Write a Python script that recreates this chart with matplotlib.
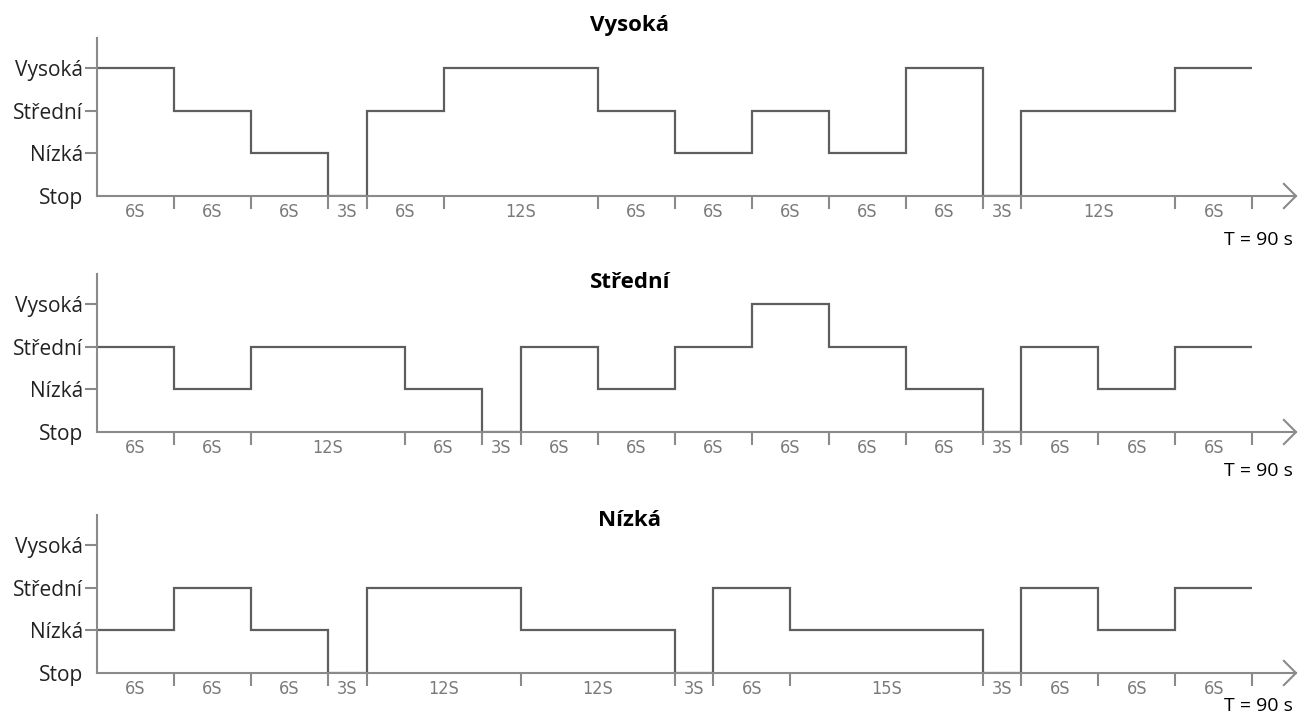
import numpy as np
import matplotlib.pyplot as plt

level_names = ["Stop", "Nízká", "Střední", "Vysoká"]

# panel titles
titles = ["Vysoká", "Střední", "Nízká"]

# segment durations (s) and levels (0=Stop, 1=Nízká, 2=Střední, 3=Vysoká)
vysoka_dur = [6, 6, 6, 3, 6, 12, 6, 6, 6, 6, 6, 3, 12, 6]
vysoka_lvl = [3, 2, 1, 0, 2, 3, 2, 1, 2, 1, 3, 0, 2, 3]

stredni_dur = [6, 6, 12, 6, 3, 6, 6, 6, 6, 6, 6, 3, 6, 6, 6]
stredni_lvl = [2, 1, 2, 1, 0, 2, 1, 2, 3, 2, 1, 0, 2, 1, 2]

nizka_dur = [6, 6, 6, 3, 12, 12, 3, 6, 15, 3, 6, 6, 6]
nizka_lvl = [1, 2, 1, 0, 2, 1, 0, 2, 1, 0, 2, 1, 2]

total_label = "T = 90 s"

panels = [
    (vysoka_dur, vysoka_lvl),
    (stredni_dur, stredni_lvl),
    (nizka_dur, nizka_lvl),
]

W, H = 1298, 728
fig = plt.figure(figsize=(W / 100, H / 100), dpi=100)

axis_color = "#8a8a8a"
line_color = "#5e5e5e"
text_font = ["Open Sans", "DejaVu Sans"]

# pixel layout: (stop baseline y, title y, T label y)
layout = [(196, 26, 240), (432, 283, 471), (673, 521, 706)]
left_px, right_px = 97, 1296
height_px = 158
xmax = 93.4

for (dur, lvl), title, (base_y, title_y, t_y) in zip(panels, titles, layout):
    ax = fig.add_axes([left_px / W, 1 - base_y / H, (right_px - left_px) / W, height_px / H])
    edges = np.concatenate([[0], np.cumsum(dur)])
    ax.stairs(lvl, edges, baseline=None, color=line_color, lw=1.6, zorder=1)

    ax.set_xlim(0, xmax)
    ax.set_ylim(0, 3.7)
    for s in ["top", "right"]:
        ax.spines[s].set_visible(False)
    for s in ["left", "bottom"]:
        ax.spines[s].set_color(axis_color)
        ax.spines[s].set_linewidth(1.5)
        ax.spines[s].set_zorder(2)

    # arrow head on time axis
    ax.plot([xmax - 1.0, xmax, xmax - 1.0], [0.3, 0, -0.3], color=axis_color,
            lw=1.5, clip_on=False, solid_capstyle="butt")

    ax.set_yticks(range(4))
    ax.set_yticklabels(level_names, fontsize=15, family=text_font, color="#222222")
    ax.tick_params(axis="y", length=9, width=1.5, color=axis_color, pad=1)
    ax.yaxis.get_major_ticks()[0].tick1line.set_visible(False)

    ax.set_xticks(edges[1:])
    ax.set_xticklabels([])
    ax.tick_params(axis="x", length=9, width=1.5, color=axis_color, direction="out")

    mids = (edges[:-1] + edges[1:]) / 2
    for m, d in zip(mids, dur):
        ax.text(m, -0.38, f"{d}S", ha="center", va="center", fontsize=13,
                color="#7a7a7a", family=["Liberation Sans Narrow", "DejaVu Sans"],
                fontstretch="condensed", clip_on=False)

    fig.text(630 / W, 1 - title_y / H, title, ha="center", va="center",
             fontsize=16, fontweight="bold", family=text_font)
    fig.text(1293 / W, 1 - t_y / H, total_label, ha="right", va="center",
             fontsize=14, family=text_font)

fig.savefig("out.png", dpi=100)
plt.close(fig)
